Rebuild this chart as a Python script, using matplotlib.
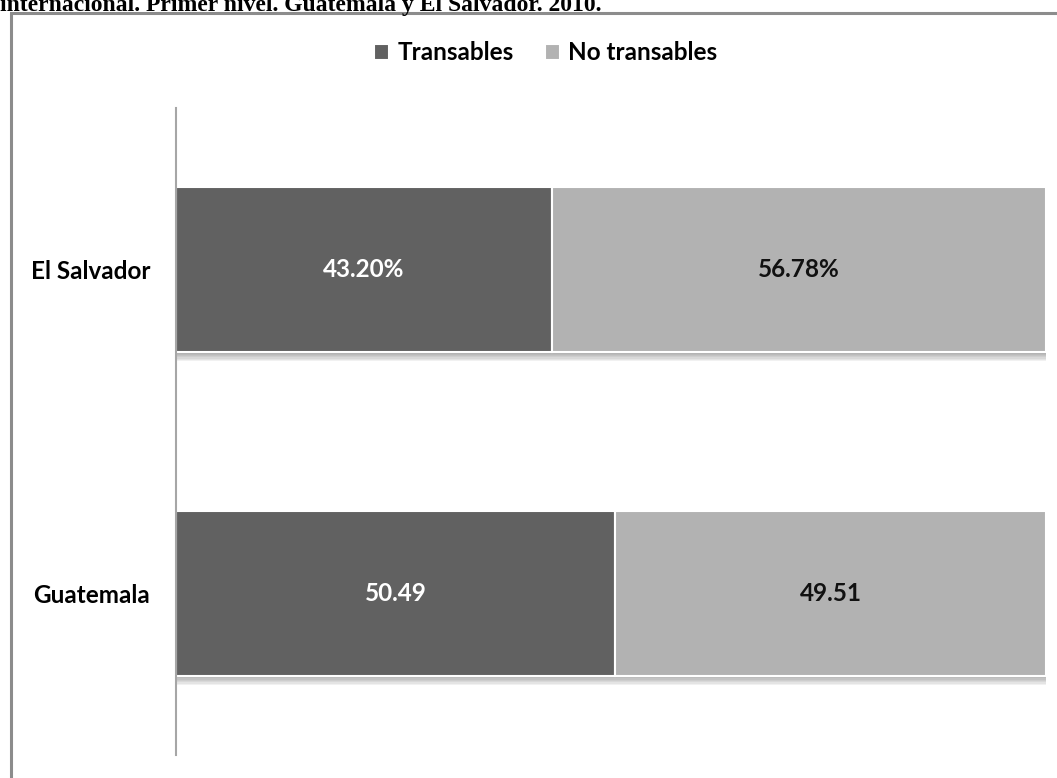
import matplotlib.pyplot as plt
from matplotlib.patches import Rectangle

# data
paises = ['Guatemala', 'El Salvador']
transables = [50.49, 43.20]
no_transables = [49.51, 56.78]
etiq_trans = ['50.49', '43.20%']
etiq_no_trans = ['49.51', '56.78%']

dark = '#616161'
light = '#b2b2b2'
fs = 17.5

W, H = 1057, 778
fig = plt.figure(figsize=(W / 100, H / 100), dpi=100)

# title of the page, cut at the top edge like in the source
fig.text(0, 1 - 11 / H, 'internacional. Primer nivel. Guatemala y El Salvador. 2010.',
         family='Liberation Serif', weight='bold', fontsize=17,
         ha='left', va='baseline')

# chart area frame (right and bottom fall outside the image)
fig.add_artist(Rectangle((11 / W, -0.1), 1.2, 1 - 13 / H + 0.1,
                         transform=fig.transFigure, fill=False,
                         edgecolor='#8c8c8c', linewidth=2.2, clip_on=False))

ax = fig.add_axes([176 / W, 1 - 755 / H, (1046 - 176) / W, (755 - 108) / H])
y = list(range(len(paises)))
h = 0.51

# soft shadow under bars
tot = [a + b for a, b in zip(transables, no_transables)]
for k in range(7):
    off = 0.004 * (k + 1)
    ax.barh([v - off for v in y], tot, height=h, color='#444444',
            alpha=0.07, linewidth=0, zorder=1)

ax.barh(y, transables, height=h, color=dark, edgecolor='white',
        linewidth=1.5, label='Transables', zorder=2)
ax.barh(y, no_transables, left=transables, height=h, color=light,
        edgecolor='white', linewidth=1.5, label='No transables', zorder=2)

for i in y:
    ax.text(transables[i] / 2, i, etiq_trans[i], color='white', weight='bold',
            family='Lato', fontsize=fs, ha='center', va='center', zorder=3)
    ax.text(transables[i] + no_transables[i] / 2, i, etiq_no_trans[i],
            color='#111111', weight='bold', family='Lato', fontsize=fs,
            ha='center', va='center', zorder=3)

ax.set_xlim(0, 100)
ax.set_ylim(-0.5, 1.5)
ax.set_yticks(y)
ax.set_yticklabels(paises, family='Lato', weight='bold', fontsize=fs)
ax.tick_params(axis='y', length=0, pad=18.5)
ax.set_xticks([])
for s in ['top', 'right', 'bottom']:
    ax.spines[s].set_visible(False)
ax.spines['left'].set_color('#a6a6a6')
ax.spines['left'].set_linewidth(1.5)

fig.legend(loc='center', bbox_to_anchor=(546 / W, 1 - 53 / H), ncol=2,
           frameon=False, prop={'family': 'Lato', 'weight': 'bold', 'size': fs},
           handlelength=0.6, handleheight=0.6, handletextpad=0.35,
           columnspacing=1.3)

fig.savefig('out.png', dpi=100)
